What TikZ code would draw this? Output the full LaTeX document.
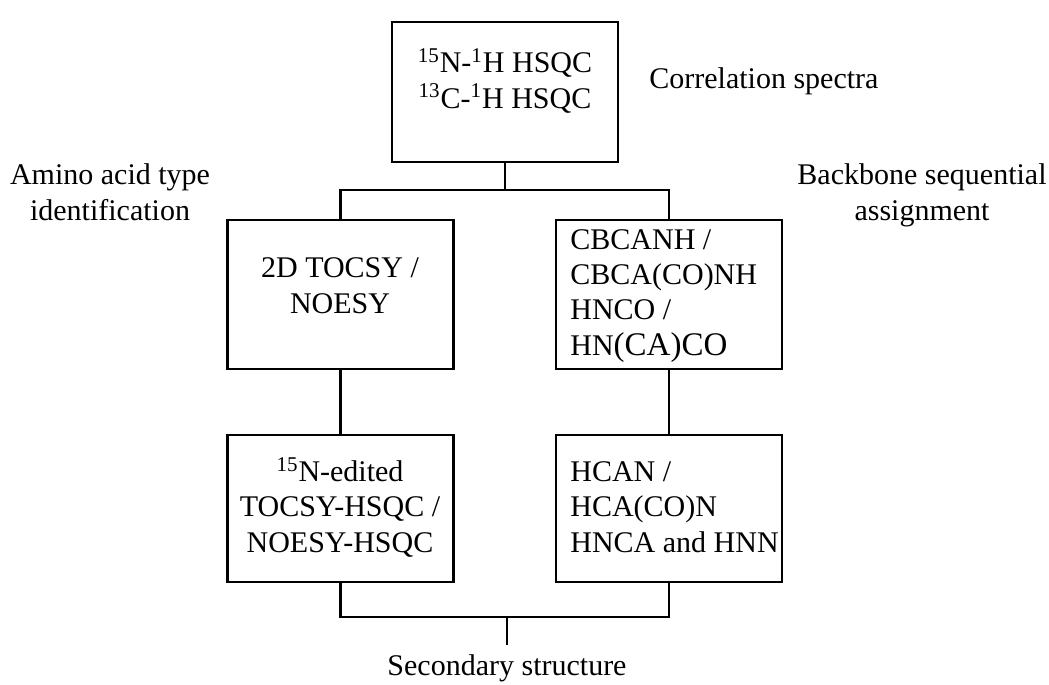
\documentclass[tikz,border=0pt]{standalone}
\usepackage{fontspec}
\setmainfont{Liberation Serif}
\begin{document}
\begin{tikzpicture}[x=0.5pt,y=-0.5pt,
  box/.style={draw,line width=1.2pt,rectangle,inner sep=0pt,minimum width=113pt},
  txt/.style={inner sep=0pt,font=\fontsize{15}{17.6}\selectfont},
  sup/.style={},
  conn/.style={line width=1.2pt}]
\useasboundingbox (0,0) rectangle (1049,685);
% boxes
\node[box,minimum height=70pt] (top) at (505,92) {};
\node[box,minimum height=74.5pt] (lm) at (340.5,294.5) {};
\node[box,minimum height=74.5pt] (rm) at (669,294.5) {};
\node[box,minimum height=73.5pt] (lb) at (340.5,508.5) {};
\node[box,minimum height=73.5pt] (rb) at (669,508.5) {};
% box texts (anchor = baseline of last line)
\node[txt,align=center,anchor=base] (ttop) at (505,108) {\textsuperscript{15}N-\textsuperscript{1}H HSQC\\\textsuperscript{13}C-\textsuperscript{1}H HSQC};
\node[txt,align=center,anchor=base] (tlm) at (340,313) {2D TOCSY /\\NOESY};
\node[txt,align=left,anchor=base west] (trm) at (570,355) {CBCANH /\\CBCA(CO)NH\\HNCO /\\HN{\fontsize{16.5}{17.6}\selectfont(CA)CO}};
\node[txt,align=center,anchor=base] (tlb) at (340,552) {\textsuperscript{15}N-edited\\TOCSY-HSQC /\\NOESY-HSQC};
\node[txt,align=left,anchor=base west] (trb) at (570,552) {HCAN /\\HCA(CO)N\\HNCA and HNN};
% labels
\node[txt,anchor=base west] (lcorr) at (649,88) {Correlation spectra};
\node[txt,align=center,anchor=base] (lamino) at (110,220) {Amino acid type\\identification};
\node[txt,align=center,anchor=base] (lback) at (922,220) {Backbone sequential\\assignment};
\node[txt,anchor=base] (lsec) at (507,675) {Secondary structure};
% connectors
\coordinate (j1) at (505,190);
\coordinate (j2) at (507,617);
\coordinate (j3) at (507,645);
\draw[conn] (top.south) -- (j1);
\draw[conn] (lm.north) |- (j1) -| (rm.north);
\draw[conn] (lm.south) -- (lb.north);
\draw[conn] (rm.south) -- (rb.north);
\draw[conn] (lb.south) |- (j2) -| (rb.south);
\draw[conn] (j2) -- (j3);
\end{tikzpicture}
\end{document}
